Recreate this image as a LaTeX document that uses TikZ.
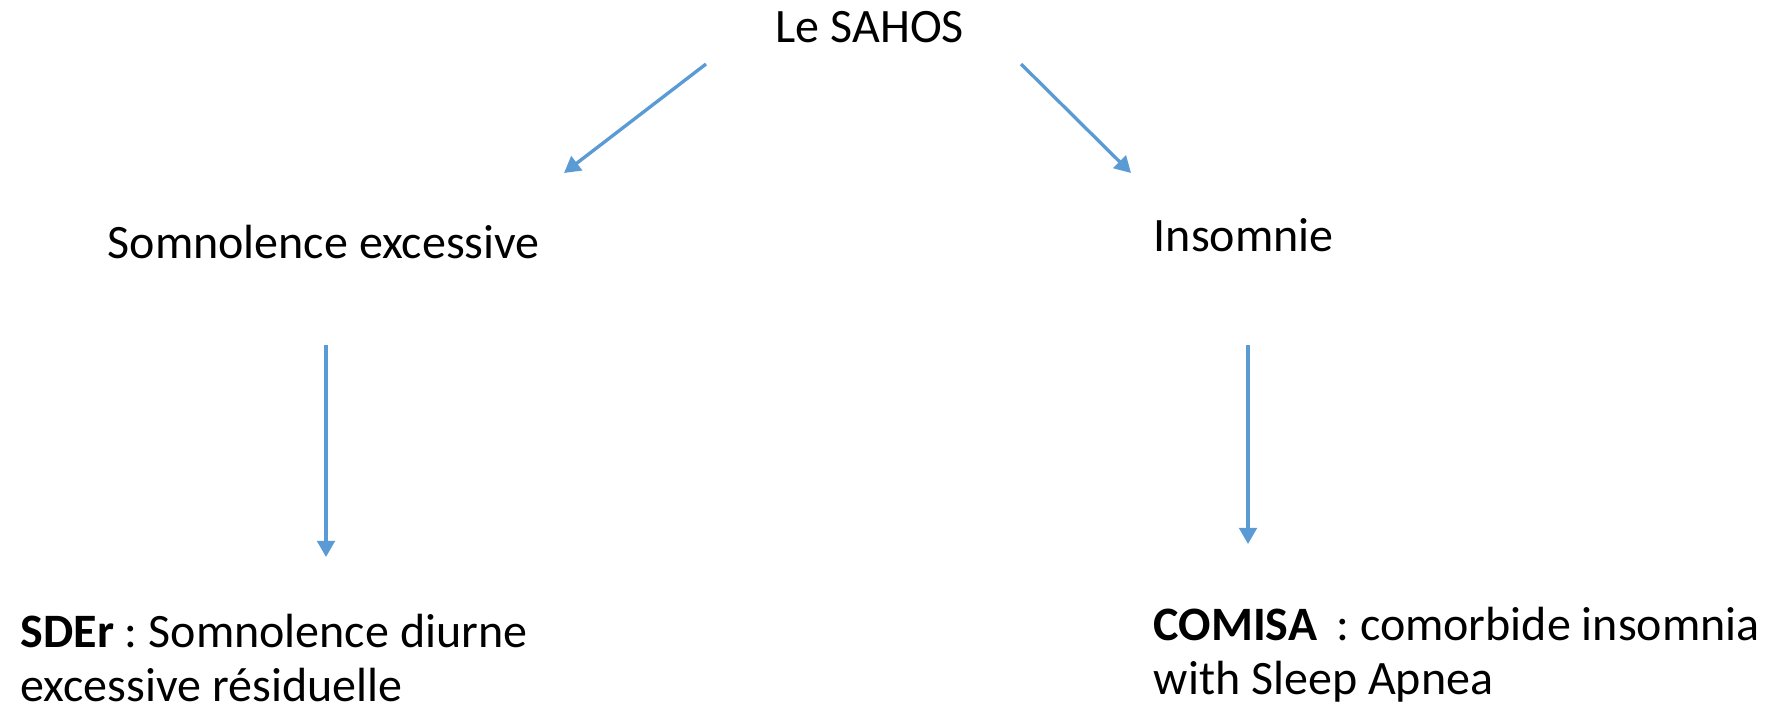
\documentclass[tikz,border=0pt]{standalone}
\usepackage{fontspec}
\setmainfont{Carlito}
\frenchspacing
\usetikzlibrary{arrows.meta, positioning}
\definecolor{arrowblue}{RGB}{91,155,213}
\tikzset{
  txt/.style={inner sep=0pt, anchor=base west, align=left,
    font=\fontsize{13.65pt}{15.2pt}\selectfont},
  arrow/.style={-{Triangle[length=4.6pt, width=5pt]}, line width=0.95pt, color=arrowblue}
}

\begin{document}
\begin{tikzpicture}[x=0.01cm, y=-0.01cm]
  \useasboundingbox (0,0) rectangle (1773,708);
  % Titles
  \node[txt] (sahos) at (775,42) {Le SAHOS};
  \node[txt] (somno) at (107,258) {Somnolence excessive};
  \node[txt] (insom) at (1153,251) {Insomnie};
  % Definitions
  \node[txt] (sder) at (20,701) {\textbf{SDEr} : Somnolence diurne\\excessive résiduelle};
  \node[txt] (comisa) at (1153,694) {\textbf{COMISA}\hspace{0.4em}: comorbide insomnia\\with Sleep Apnea};
  % Arrow ends
  \coordinate (s1) at (706,64);
  \coordinate (s2) at (564,173);
  \coordinate (s3) at (1021,64);
  \coordinate (s4) at (1131,173);
  \coordinate (l1) at (326,345);
  \coordinate (l2) at (326,557);
  \coordinate (r1) at (1248,345);
  \coordinate (r2) at (1248,544);
  \draw[arrow] (s1) -- (s2);
  \draw[arrow] (s3) -- (s4);
  \draw[arrow] (l1) -- (l2);
  \draw[arrow] (r1) -- (r2);
\end{tikzpicture}
\end{document}
